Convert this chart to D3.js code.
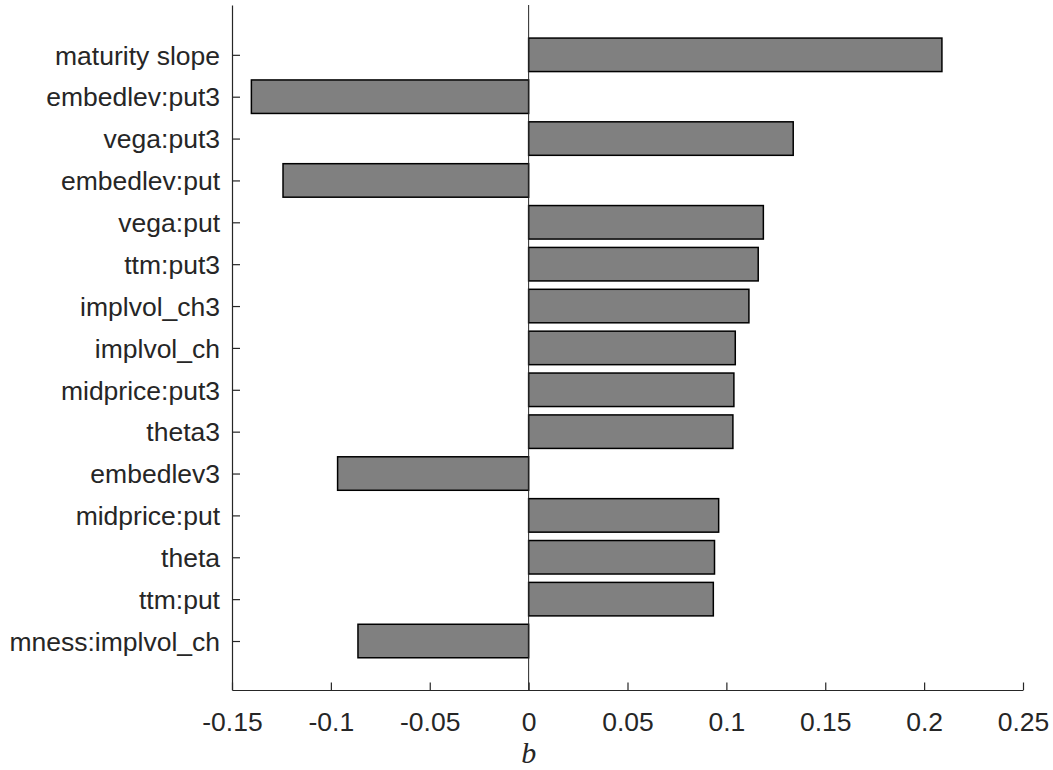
<!DOCTYPE html>
<html>
<head>
<meta charset="utf-8">
<script src="https://cdn.jsdelivr.net/npm/d3@7"></script>
<style>
  body { margin: 0; background: #fff; }
  #chart { width: 1053px; height: 770px; }
</style>
</head>
<body>
<div id="chart"></div>
<script>
const labels = [
  'maturity slope', 'embedlev:put3', 'vega:put3', 'embedlev:put', 'vega:put',
  'ttm:put3', 'implvol_ch3', 'implvol_ch', 'midprice:put3', 'theta3',
  'embedlev3', 'midprice:put', 'theta', 'ttm:put', 'mness:implvol_ch'
]
const values = [
  0.209, -0.1402, 0.1338, -0.1242, 0.1187,
  0.1161, 0.1114, 0.1045, 0.1038, 0.1033,
  -0.0966, 0.0961, 0.094, 0.0934, -0.0863
]
const xTicks = [-0.15, -0.1, -0.05, 0, 0.05, 0.1, 0.15, 0.2, 0.25]

const canvasWidth = 1053
const canvasHeight = 770
const axisColor = '#262626'
const plot = {left: 232, right: 1023, top: 5, bottom: 690}

const xScale = d3.scaleLinear().domain([-0.15, 0.25]).range([plot.left, plot.right])
const yScale = d3.scaleLinear().domain([-1.19, labels.length + 0.17]).range([plot.top, plot.bottom])
const barH = (yScale(1) - yScale(0)) * 0.8

const svg = d3.select('#chart')
  .append('svg')
  .attr('width', canvasWidth)
  .attr('height', canvasHeight)
  .style('font-family', '"Liberation Sans", Arial, sans-serif')

// bars
svg.selectAll('rect.bar')
  .data(values)
  .enter()
  .append('rect')
  .attr('class', 'bar')
  .attr('x', d => xScale(Math.min(0, d)))
  .attr('width', d => Math.abs(xScale(d) - xScale(0)))
  .attr('y', (d, i) => yScale(i) - barH / 2)
  .attr('height', barH)
  .attr('fill', '#808080')
  .attr('stroke', '#000')
  .attr('stroke-width', 1.5)

// zero baseline
svg.append('line')
  .attr('x1', xScale(0)).attr('x2', xScale(0))
  .attr('y1', plot.top).attr('y2', plot.bottom)
  .attr('stroke', axisColor)
  .attr('stroke-width', 1)

// x axis
const xAxis = d3.axisBottom(xScale)
  .tickValues(xTicks)
  .tickSize(0)
  .tickPadding(0)

const gx = svg.append('g')
  .attr('transform', `translate(0, ${plot.bottom})`)
  .call(xAxis)
gx.select('.domain').attr('stroke', axisColor).attr('stroke-width', 1.2)
gx.selectAll('.tick text').remove()
gx.selectAll('.tick').append('line')
  .attr('y1', 0).attr('y2', -7.5)
  .attr('stroke', axisColor).attr('stroke-width', 1.2)
gx.selectAll('.tick').append('text')
  .attr('y', 41)
  .attr('text-anchor', 'middle')
  .attr('fill', axisColor)
  .style('font-size', '26.5px')
  .text(d => d === 0 ? '0' : String(d))

// y axis
const yAxis = d3.axisLeft(yScale)
  .tickValues(d3.range(labels.length))
  .tickSize(0)

const gy = svg.append('g')
  .attr('transform', `translate(${plot.left}, 0)`)
  .call(yAxis)
gy.select('.domain').attr('stroke', axisColor).attr('stroke-width', 1.2)
gy.selectAll('.tick text').remove()
gy.selectAll('.tick').append('line')
  .attr('x1', 0).attr('x2', 8)
  .attr('stroke', axisColor).attr('stroke-width', 1.2)
gy.selectAll('.tick').append('text')
  .attr('x', -12)
  .attr('dy', '0.35em')
  .attr('text-anchor', 'end')
  .attr('fill', axisColor)
  .style('font-size', '26.5px')
  .text(i => labels[i])

// x label
svg.append('text')
  .attr('x', xScale(0))
  .attr('y', 763)
  .attr('text-anchor', 'middle')
  .attr('fill', axisColor)
  .style('font-family', '"Liberation Serif", "DejaVu Serif", serif')
  .style('font-style', 'italic')
  .style('font-size', '30px')
  .text('b')
</script>
</body>
</html>
